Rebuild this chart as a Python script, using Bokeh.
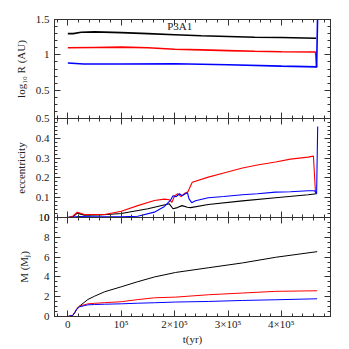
import numpy as np
from bokeh.plotting import figure
from bokeh.models import LinearAxis, FixedTicker, Label, Range1d, CustomLabelingPolicy
from bokeh.layouts import column
from bokeh.embed import file_html
from bokeh.resources import INLINE

# ---------------- data (time in units of 1e5 yr) ----------------
# panel 1: log10 R (AU)
tR_black = [0, 0.1, 0.25, 0.5, 1.0, 1.5, 2.0, 2.5, 3.0, 3.5, 4.0, 4.65]
R_black = [1.30, 1.30, 1.32, 1.325, 1.315, 1.30, 1.285, 1.27, 1.26, 1.25, 1.245, 1.235]
tR_red = [0, 0.5, 1.0, 1.5, 2.0, 2.5, 3.0, 3.5, 4.0, 4.64, 4.66]
R_red = [1.10, 1.105, 1.11, 1.10, 1.08, 1.07, 1.06, 1.05, 1.045, 1.04, 0.82]
tR_blue = [0, 0.3, 1.0, 2.0, 3.0, 4.0, 4.66, 4.68]
R_blue = [0.885, 0.87, 0.87, 0.875, 0.86, 0.84, 0.83, 1.6]

# panel 2: eccentricity
te_black = [0, 0.1, 0.176, 0.31, 0.6, 1.0, 1.5, 1.9, 1.97, 2.05, 2.14, 2.24, 2.3, 2.63,
            3.27, 3.89, 4.5, 4.66]
e_black = [0, 0.005, 0.022, 0.012, 0.013, 0.02, 0.044, 0.069, 0.044, 0.05, 0.06, 0.052,
           0.05, 0.066, 0.084, 0.10, 0.115, 0.12]
te_red = [0, 0.1, 0.176, 0.31, 0.69, 1.0, 1.31, 1.62, 1.81, 1.9, 1.95, 2.0, 2.06, 2.12,
          2.19, 2.25, 2.3, 2.33, 2.63, 2.92, 3.27, 3.55, 3.89, 4.17, 4.5, 4.6, 4.64]
e_red = [0, 0.008, 0.027, 0.015, 0.015, 0.032, 0.06, 0.086, 0.093, 0.09, 0.077, 0.11,
         0.12, 0.105, 0.123, 0.13, 0.16, 0.178, 0.204, 0.225, 0.25, 0.265, 0.28, 0.295,
         0.305, 0.31, 0.12]
te_blue = [0, 0.1, 0.2, 0.5, 1.0, 1.31, 1.62, 1.81, 1.92, 1.97, 2.03, 2.09, 2.14, 2.2,
           2.24, 2.27, 2.32, 2.39, 2.63, 2.92, 3.27, 3.55, 3.89, 4.17, 4.5, 4.62, 4.66, 4.68]
e_blue = [0, 0.002, 0.005, 0.003, 0.003, 0.006, 0.027, 0.056, 0.086, 0.11, 0.105, 0.12,
          0.11, 0.12, 0.125, 0.094, 0.075, 0.085, 0.10, 0.106, 0.115, 0.12, 0.128, 0.13,
          0.135, 0.135, 0.12, 0.46]

# panel 3: mass (M_J)
tM = [0, 0.09, 0.13, 0.17, 0.22, 0.375, 0.5, 0.69, 1.0, 1.3, 1.62, 2.02, 2.64, 3.27, 3.89, 4.67]
M_black = [0, 0.1, 0.4, 0.8, 1.05, 1.72, 2.05, 2.5, 3.0, 3.5, 3.99, 4.45, 4.93, 5.41, 5.98, 6.55]
M_red = [0, 0.1, 0.4, 0.8, 1.05, 1.28, 1.33, 1.4, 1.49, 1.7, 1.89, 1.96, 2.2, 2.37, 2.54, 2.6]
M_blue = [0, 0.1, 0.4, 0.75, 0.98, 1.18, 1.21, 1.24, 1.28, 1.34, 1.39, 1.46, 1.52, 1.62, 1.69, 1.79]

X_MAJOR = [0, 100000, 200000, 300000, 400000]
X_LABELS = {0: "0", 100000: "10⁵", 200000: "2×10⁵", 300000: "3×10⁵", 400000: "4×10⁵"}
X_MINOR = list(range(-20000, 492000, 20000))
XR = (-25000, 492000)

FONT = "Liberation Serif"
AX = "#333333"

HIDE = "for (let i = 0; i < indices.size; i++) { indices.unset(i) } return indices"


def style_axis(ax, show_labels, label=None):
    ax.axis_line_color = AX
    ax.major_tick_line_color = AX
    ax.minor_tick_line_color = AX
    ax.major_tick_in = 6
    ax.major_tick_out = 0
    ax.minor_tick_in = 3
    ax.minor_tick_out = 0
    ax.major_label_text_font = FONT
    ax.major_label_text_color = "#222222"
    if show_labels:
        ax.major_label_text_font_size = "11px"
        ax.major_label_standoff = 5
    else:
        ax.major_label_text_font_size = "0px"
        ax.major_label_standoff = 0
        ax.major_label_policy = CustomLabelingPolicy(code=HIDE)
    if label:
        ax.axis_label = label
        ax.axis_label_text_font = FONT
        ax.axis_label_text_font_size = "11px"
        ax.axis_label_text_font_style = "normal"
        ax.axis_label_text_color = "#222222"
        ax.axis_label_standoff = 6


def panel(yr, ymaj, ymin, ylab, overrides, top, bottom, margin, xlabels):
    p = figure(frame_width=276, frame_height=99, x_range=Range1d(*XR), y_range=Range1d(*yr),
               x_axis_location=None, y_axis_location=None, output_backend="svg",
               toolbar_location=None, min_border_left=54, min_border_right=10,
               min_border_top=top, min_border_bottom=bottom, margin=margin,
               border_fill_color=None, background_fill_color=None, outline_line_color=AX)
    p.grid.visible = False
    xb = LinearAxis(ticker=FixedTicker(ticks=X_MAJOR, minor_ticks=X_MINOR))
    style_axis(xb, xlabels, "t(yr)" if xlabels else None)
    if xlabels:
        xb.major_label_overrides = X_LABELS
        xb.major_label_standoff = 1
        xb.axis_label_standoff = 0
    p.add_layout(xb, "below")
    xa = LinearAxis(ticker=FixedTicker(ticks=X_MAJOR, minor_ticks=X_MINOR))
    style_axis(xa, False)
    p.add_layout(xa, "above")
    yl = LinearAxis(ticker=FixedTicker(ticks=ymaj, minor_ticks=ymin))
    style_axis(yl, True, ylab)
    if overrides:
        yl.major_label_overrides = overrides
    p.add_layout(yl, "left")
    yrr = LinearAxis(ticker=FixedTicker(ticks=ymaj, minor_ticks=ymin))
    style_axis(yrr, False)
    p.add_layout(yrr, "right")
    return p


def T(t):
    return np.array(t) * 1e5


p1 = panel((0.1, 1.5), [0.5, 1.0, 1.5], list(np.round(np.arange(0.1, 1.51, 0.1), 2)),
           "log₁₀ R (AU)", {0.5: "0.5", 1: "1", 1.5: "1.5"}, 19, 8, (0, 0, 0, 0), False)
p1.line(T(tR_black), R_black, line_color="black", line_width=1.6)
p1.line(T(tR_red), R_red, line_color="#ff0000", line_width=1.6)
p1.line(T(tR_blue), R_blue, line_color="#0000ff", line_width=1.6)
p1.add_layout(Label(x=186000, y=1.41, text="P3A1", text_font=FONT, text_font_size="11px",
                    text_baseline="middle", text_align="left", text_color="#222222"))

p2 = panel((0, 0.5), [0, 0.1, 0.2, 0.3, 0.4, 0.5], list(np.round(np.arange(0, 0.501, 0.02), 3)),
           "eccentricity", {0: "0", 0.1: "0.1", 0.2: "0.2", 0.3: "0.3", 0.4: "0.4", 0.5: "0.5"},
           8, 8, (-16, 0, 0, 0), False)
p2.line(T(te_black), e_black, line_color="black", line_width=1.1)
p2.line(T(te_red), e_red, line_color="#ff0000", line_width=1.1)
p2.line(T(te_blue), e_blue, line_color="#0000ff", line_width=1.1)

p3 = panel((0, 10), [0, 2, 4, 6, 8, 10], list(np.arange(0, 10.01, 0.5)),
           "M (Mⱼ)", None, 8, 30, (-16, 0, 0, 0), True)
p3.line(T(tM), M_black, line_color="black", line_width=1)
p3.line(T(tM), M_red, line_color="#ff0000", line_width=1)
p3.line(T(tM), M_blue, line_color="#0000ff", line_width=1)

p = column(p1, p2, p3)
open("out.html", "w").write(file_html(p, INLINE))
